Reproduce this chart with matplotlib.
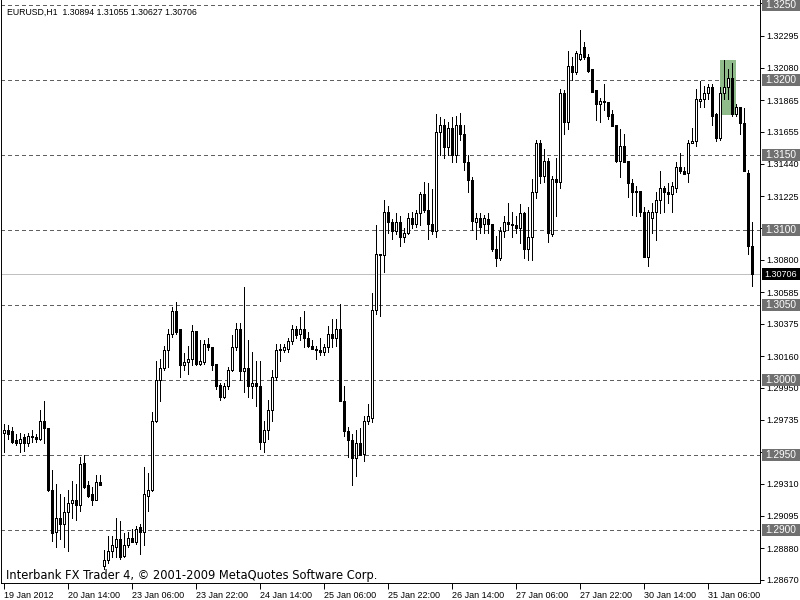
import matplotlib
matplotlib.use("Agg")
import matplotlib.pyplot as plt
import matplotlib.transforms as mtransforms
from matplotlib.patches import Rectangle

# EURUSD H1 bars, 19 Jan 2012 22:00 .. 31 Jan 2012 17:00
opens = [
    1.2965, 1.2967, 1.2966, 1.2960, 1.2958, 1.2962, 1.2958, 1.2963, 1.2962, 1.2961,
    1.2973, 1.2968, 1.2927, 1.2899, 1.2908, 1.2904, 1.2912, 1.2918, 1.2920, 1.2917,
    1.2945, 1.2930, 1.2924, 1.2920, 1.2932, 1.2876, 1.2880, 1.2886, 1.2889, 1.2894,
    1.2883, 1.2890, 1.2895, 1.2892, 1.2902, 1.2899, 1.2923, 1.2927, 1.2973, 1.3000,
    1.3008, 1.3020, 1.3031, 1.3046, 1.3034, 1.3010, 1.3012, 1.3014, 1.3033, 1.3011,
    1.3012, 1.3024, 1.3022, 1.3011, 1.2997, 1.2989, 1.2996, 1.3007, 1.3022, 1.3034,
    1.3006, 1.3008, 1.2996, 1.2998, 1.2996, 1.2959, 1.2967, 1.2980, 1.3002, 1.3020,
    1.3020, 1.3021, 1.3026, 1.3034, 1.3031, 1.3034, 1.3028, 1.3023, 1.3021, 1.3020,
    1.3019, 1.3022, 1.3031, 1.3028, 1.3034, 1.2986, 1.2966, 1.2960, 1.2948, 1.2958,
    1.2951, 1.2973, 1.2975, 1.3047, 1.3083, 1.3083, 1.3112, 1.3105, 1.3099, 1.3105,
    1.3095, 1.3098, 1.3108, 1.3104, 1.3111, 1.3124, 1.3113, 1.3104, 1.3099, 1.3165,
    1.3170, 1.3155, 1.3168, 1.3150, 1.3170, 1.3164, 1.3145, 1.3133, 1.3105, 1.3108,
    1.3104, 1.3107, 1.3104, 1.3087, 1.3081, 1.3099, 1.3105, 1.3104, 1.3103, 1.3101,
    1.3111, 1.3087, 1.3095, 1.3125, 1.3158, 1.3136, 1.3146, 1.3097, 1.3134, 1.3132,
    1.3191, 1.3172, 1.3209, 1.3205, 1.3214, 1.3222, 1.3215, 1.3207, 1.3193, 1.3184,
    1.3186, 1.3185, 1.3177, 1.3170, 1.3146, 1.3156, 1.3146, 1.3131, 1.3126, 1.3126,
    1.3112, 1.3082, 1.3108, 1.3112, 1.3120, 1.3128, 1.3125, 1.3124, 1.3128, 1.3142,
    1.3139, 1.3138, 1.3158, 1.3159, 1.3186, 1.3187, 1.3191, 1.3195, 1.3177, 1.3161,
    1.3191, 1.3195, 1.3201, 1.3177, 1.3182, 1.3171, 1.3138, 1.30894,
]
highs = [
    1.2971, 1.2970, 1.2969, 1.2964, 1.2965, 1.2964, 1.2965, 1.2967, 1.2964, 1.2980,
    1.2986, 1.2968, 1.2940, 1.2931, 1.2924, 1.2922, 1.2927, 1.2933, 1.2931, 1.2949,
    1.2950, 1.2933, 1.2929, 1.2937, 1.2937, 1.2887, 1.2896, 1.2896, 1.2908, 1.2906,
    1.2898, 1.2899, 1.2901, 1.2903, 1.2904, 1.2942, 1.2938, 1.2979, 1.3013, 1.3014,
    1.3023, 1.3034, 1.3049, 1.3052, 1.3034, 1.3018, 1.3023, 1.3037, 1.3033, 1.3027,
    1.3027, 1.3028, 1.3022, 1.3011, 1.2998, 1.2998, 1.3009, 1.3030, 1.3038, 1.3038,
    1.3062, 1.3027, 1.3019, 1.3013, 1.3013, 1.2973, 1.2987, 1.3007, 1.3024, 1.3024,
    1.3024, 1.3028, 1.3037, 1.3036, 1.3042, 1.3046, 1.3032, 1.3027, 1.3023, 1.3028,
    1.3024, 1.3036, 1.3041, 1.3041, 1.3051, 1.2996, 1.2969, 1.2964, 1.2967, 1.2968,
    1.2976, 1.2984, 1.3058, 1.3103, 1.3084, 1.3120, 1.3116, 1.3107, 1.3111, 1.3109,
    1.3101, 1.3111, 1.3112, 1.3113, 1.3125, 1.3132, 1.3131, 1.3127, 1.3177, 1.3175,
    1.3174, 1.3172, 1.3175, 1.3176, 1.3178, 1.3170, 1.3150, 1.3135, 1.3111, 1.3111,
    1.3110, 1.3111, 1.3104, 1.3096, 1.3102, 1.3109, 1.3118, 1.3112, 1.3109, 1.3117,
    1.3112, 1.3115, 1.3134, 1.3160, 1.3160, 1.3154, 1.3148, 1.3136, 1.3148, 1.3194,
    1.3193, 1.3219, 1.3215, 1.3219, 1.3233, 1.3225, 1.3217, 1.3207, 1.3193, 1.3188,
    1.3197, 1.3185, 1.3180, 1.3170, 1.3167, 1.3164, 1.3146, 1.3134, 1.3129, 1.3126,
    1.3115, 1.3113, 1.3118, 1.3125, 1.3139, 1.3129, 1.3131, 1.3132, 1.3145, 1.3151,
    1.3142, 1.3160, 1.3168, 1.3194, 1.3199, 1.3196, 1.3197, 1.3197, 1.3178, 1.3195,
    1.3213, 1.3207, 1.3211, 1.3184, 1.3182, 1.3181, 1.3140, 1.31055,
]
lows = [
    1.2952, 1.2961, 1.2958, 1.2957, 1.2952, 1.2953, 1.2956, 1.2959, 1.2959, 1.2960,
    1.2958, 1.2926, 1.2893, 1.2889, 1.2894, 1.2889, 1.2886, 1.2908, 1.2907, 1.2913,
    1.2928, 1.2922, 1.2917, 1.2920, 1.2930, 1.2874, 1.2878, 1.2882, 1.2882, 1.2881,
    1.2882, 1.2889, 1.2892, 1.2891, 1.2884, 1.2890, 1.2913, 1.2926, 1.2972, 1.2986,
    1.3007, 1.3009, 1.3029, 1.3031, 1.3002, 1.3007, 1.3004, 1.3010, 1.3010, 1.3010,
    1.3011, 1.3020, 1.3007, 1.2994, 1.2987, 1.2988, 1.2994, 1.3006, 1.3020, 1.3000,
    1.2992, 1.2989, 1.2988, 1.2983, 1.2954, 1.2952, 1.2961, 1.2973, 1.3000, 1.3013,
    1.3019, 1.3019, 1.3024, 1.3028, 1.3027, 1.3022, 1.3022, 1.3021, 1.3014, 1.3017,
    1.3017, 1.3019, 1.3022, 1.3023, 1.2986, 1.2963, 1.2949, 1.2930, 1.2936, 1.2950,
    1.2946, 1.2971, 1.2972, 1.3044, 1.3043, 1.3072, 1.3098, 1.3094, 1.3097, 1.3089,
    1.3092, 1.3097, 1.3101, 1.3102, 1.3103, 1.3112, 1.3094, 1.3097, 1.3095, 1.3150,
    1.3148, 1.3150, 1.3145, 1.3145, 1.3160, 1.3140, 1.3125, 1.3100, 1.3094, 1.3098,
    1.3098, 1.3098, 1.3086, 1.3076, 1.3080, 1.3095, 1.3100, 1.3095, 1.3098, 1.3091,
    1.3081, 1.3080, 1.3080, 1.3121, 1.3131, 1.3132, 1.3092, 1.3096, 1.3109, 1.3128,
    1.3164, 1.3167, 1.3200, 1.3204, 1.3213, 1.3214, 1.3205, 1.3192, 1.3173, 1.3172,
    1.3180, 1.3174, 1.3169, 1.3145, 1.3135, 1.3145, 1.3122, 1.3110, 1.3109, 1.3109,
    1.3082, 1.3076, 1.3098, 1.3093, 1.3111, 1.3112, 1.3118, 1.3112, 1.3125, 1.3138,
    1.3137, 1.3132, 1.3158, 1.3156, 1.3182, 1.3182, 1.3187, 1.3170, 1.3159, 1.3160,
    1.3187, 1.3187, 1.3176, 1.3176, 1.3164, 1.3139, 1.3084, 1.30627,
]
closes = [
    1.2967, 1.2964, 1.2959, 1.2958, 1.2961, 1.2958, 1.2963, 1.2962, 1.2961, 1.2973,
    1.2968, 1.2927, 1.2898, 1.2908, 1.2904, 1.2912, 1.2918, 1.2920, 1.2917, 1.2944,
    1.2929, 1.2923, 1.2920, 1.2932, 1.2930, 1.2880, 1.2886, 1.2890, 1.2894, 1.2882,
    1.2890, 1.2895, 1.2892, 1.2901, 1.2899, 1.2924, 1.2927, 1.2973, 1.3000, 1.3008,
    1.3020, 1.3031, 1.3046, 1.3032, 1.3010, 1.3012, 1.3014, 1.3033, 1.3011, 1.3013,
    1.3024, 1.3022, 1.3010, 1.2996, 1.2989, 1.2996, 1.3007, 1.3022, 1.3034, 1.3006,
    1.3008, 1.2996, 1.2998, 1.2996, 1.2959, 1.2967, 1.2980, 1.3002, 1.3020, 1.3021,
    1.3022, 1.3026, 1.3034, 1.3030, 1.3034, 1.3028, 1.3023, 1.3021, 1.3020, 1.3019,
    1.3022, 1.3031, 1.3028, 1.3034, 1.2986, 1.2966, 1.2960, 1.2948, 1.2958, 1.2950,
    1.2973, 1.2976, 1.3047, 1.3084, 1.3084, 1.3112, 1.3105, 1.3099, 1.3105, 1.3095,
    1.3098, 1.3108, 1.3104, 1.3111, 1.3124, 1.3113, 1.3104, 1.3099, 1.3165, 1.3170,
    1.3155, 1.3168, 1.3150, 1.3170, 1.3164, 1.3145, 1.3133, 1.3106, 1.3108, 1.3102,
    1.3108, 1.3104, 1.3087, 1.3081, 1.3099, 1.3105, 1.3104, 1.3103, 1.3101, 1.3111,
    1.3087, 1.3095, 1.3125, 1.3158, 1.3136, 1.3146, 1.3098, 1.3134, 1.3132, 1.3191,
    1.3172, 1.3209, 1.3205, 1.3218, 1.3217, 1.3215, 1.3206, 1.3192, 1.3184, 1.3186,
    1.3185, 1.3176, 1.3169, 1.3146, 1.3156, 1.3145, 1.3131, 1.3125, 1.3125, 1.3112,
    1.3082, 1.3112, 1.3112, 1.3120, 1.3128, 1.3125, 1.3124, 1.3129, 1.3142, 1.3139,
    1.3137, 1.3158, 1.3159, 1.3187, 1.3187, 1.3191, 1.3195, 1.3176, 1.3161, 1.3191,
    1.3195, 1.3201, 1.3177, 1.3182, 1.3171, 1.3139, 1.3089, 1.30706,
]

time_labels = ['19 Jan 2012', '20 Jan 14:00', '23 Jan 06:00', '23 Jan 22:00',
               '24 Jan 14:00', '25 Jan 06:00', '25 Jan 22:00', '26 Jan 14:00',
               '27 Jan 06:00', '27 Jan 22:00', '30 Jan 14:00', '31 Jan 06:00']
label_step = 16  # one time label every 16 bars

price_ticks = [1.28670, 1.28880, 1.29095, 1.29310, 1.29520, 1.29735, 1.29950,
               1.30160, 1.30375, 1.30585, 1.30800, 1.31010, 1.31225, 1.31440,
               1.31655, 1.31865, 1.32080, 1.32295, 1.32510]
# these labels sit under the boxed level labels
hidden_ticks = [1.29520, 1.31010, 1.32510]
grid_levels = [1.2900, 1.2950, 1.3000, 1.3050, 1.3100, 1.3150, 1.3200, 1.3250]
last_price = 1.30706

# rectangle object drawn on the chart
zone_bars = (179, 183)
zone_prices = (1.31767, 1.32133)

title = "EURUSD,H1  1.30894 1.31055 1.30627 1.30706"
footer = "Interbank FX Trader 4, \u00a9 2001-2009 MetaQuotes Software Corp."

lab_font = 'Liberation Sans'
thin = 0.7  # ~1 px

fig = plt.figure(figsize=(8, 6), dpi=100, facecolor='white')
ax = fig.add_axes([1 / 800, 17 / 600, 759 / 800, 583 / 600])
ax.set_xlim(-0.625, 189.125)
ax.set_ylim(1.286467, 1.325333)

# grid levels and current price line
for lv in grid_levels:
    ax.axhline(lv, color='#606060', lw=thin, ls=(0, (3.2, 3.2)), zorder=0.5,
               antialiased=False)
ax.axhline(last_price, color='#c0c0c0', lw=thin, zorder=0.6, antialiased=False)

ax.add_patch(Rectangle((zone_bars[0], zone_prices[0]), zone_bars[1] - zone_bars[0],
                       zone_prices[1] - zone_prices[0], facecolor='#8fbc8a',
                       edgecolor='none', zorder=1))

# candles
xs = list(range(len(opens)))
ax.vlines(xs, lows, highs, color='black', lw=thin, zorder=2, antialiased=False)
bottoms = [min(o, c) for o, c in zip(opens, closes)]
heights = [abs(c - o) for o, c in zip(opens, closes)]
faces = ['white' if c >= o else 'black' for o, c in zip(opens, closes)]
ax.bar(xs, heights, bottom=bottoms, width=0.5, color=faces, edgecolor='black',
       linewidth=thin, zorder=3, antialiased=False)

# axes styling
ax.spines['top'].set_visible(False)
for side in ['left', 'right', 'bottom']:
    ax.spines[side].set_linewidth(thin)

ax.yaxis.tick_right()
ax.set_yticks(price_ticks, ["" if t in hidden_ticks else f"{t:.5f}"
                            for t in price_ticks])
ax.tick_params(axis='y', direction='out', length=3, width=thin, pad=1.5,
               labelsize=6.5)
ax.set_xticks([i * label_step for i in range(len(time_labels))], time_labels)
ax.tick_params(axis='x', direction='out', length=4, width=thin, pad=1.5,
               labelsize=6.5)
for lab in ax.get_xticklabels():
    lab.set_ha('left')
    lab.set_fontfamily(lab_font)
for lab in ax.get_yticklabels():
    lab.set_fontfamily(lab_font)

# boxed price labels on the right scale
blend = mtransforms.blended_transform_factory(ax.transAxes, ax.transData)
box_h = 12 / 15000
for lv in grid_levels:
    ax.add_patch(Rectangle((1 + 2 / 759, lv - box_h / 2), 38 / 759, box_h,
                           transform=blend, facecolor='#707070', edgecolor='none',
                           clip_on=False, zorder=5))
    ax.text(1 + 5 / 759, lv, f"{lv:.4f}", transform=blend, ha='left', va='center',
            color='white', fontsize=7.3, family=lab_font, zorder=6, clip_on=False)
ax.add_patch(Rectangle((1 + 2 / 759, last_price - box_h / 2), 38 / 759, box_h,
                       transform=blend, facecolor='black', edgecolor='none',
                       clip_on=False, zorder=5))
ax.text(1 + 4 / 759, last_price, f"{last_price:.5f}", transform=blend, ha='left',
        va='center', color='white', fontsize=6.5, family=lab_font, zorder=6,
        clip_on=False)

fig.text(7 / 800, 1 - 12 / 600, title, ha='left', va='center', fontsize=6.3,
         family=lab_font, color='black')
fig.text(6 / 800, 1 - 576 / 600, footer, ha='left', va='center', fontsize=8.3,
         family='DejaVu Sans', color='black')

fig.savefig('out.png', dpi=100, facecolor='white')
